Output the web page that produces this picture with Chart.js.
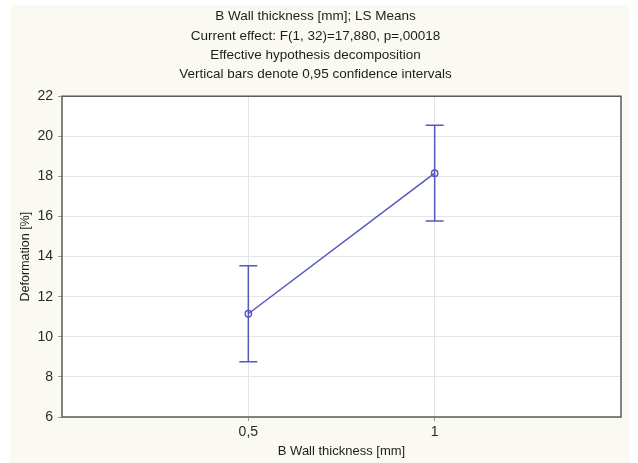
<!DOCTYPE html>
<html>
<head>
<meta charset="utf-8">
<script src="https://cdn.jsdelivr.net/npm/chart.js@4/dist/chart.umd.min.js"></script>
<style>
  html, body { margin: 0; padding: 0; background: #ffffff; }
  #wrap { position: relative; width: 638px; height: 463px; }
</style>
</head>
<body>
<div id="wrap"><canvas id="c" width="638" height="463"></canvas></div>
<script>
// Wall thickness levels (mm) and LS means of deformation (%)
const thickness = [0.5, 1];
const meanDeformation = [11.15, 18.16];
// 95% confidence interval bounds
const ciLower = [8.76, 15.77];
const ciUpper = [13.54, 20.55];
// Tick positions
const xTicks = [0.5, 1];
const yTicks = [6, 8, 10, 12, 14, 16, 18, 20, 22];

const titleLines = [
  'B Wall thickness [mm]; LS Means',
  'Current effect: F(1, 32)=17,880, p=,00018',
  'Effective hypothesis decomposition',
  'Vertical bars denote 0,95 confidence intervals'
];

const lineColor = '#5458bc';
const fontFamily = '"Liberation Sans", Arial, sans-serif';

const points = thickness.map((x, i) => ({ x: x, y: meanDeformation[i] }));

// Paper background behind the whole figure
const backgroundPlugin = {
  id: 'paper',
  beforeDraw(chart) {
    const ctx = chart.ctx;
    ctx.save();
    ctx.fillStyle = '#fafaf2';
    ctx.fillRect(10, 5, 620, 458);
    const a = chart.chartArea;
    ctx.fillStyle = '#ffffff';
    ctx.fillRect(a.left, a.top, a.right - a.left, a.bottom - a.top);
    ctx.restore();
  }
};

// Frame around the plotting area
const framePlugin = {
  id: 'frame',
  afterDatasetsDraw(chart) {
    const a = chart.chartArea;
    const ctx = chart.ctx;
    ctx.save();
    ctx.strokeStyle = '#5a5a5a';
    ctx.lineWidth = 1.5;
    ctx.strokeRect(a.left, a.top, a.right - a.left, a.bottom - a.top);
    ctx.restore();
  }
};

// Vertical confidence-interval whiskers with caps
const errorBarPlugin = {
  id: 'ciBars',
  beforeDatasetsDraw(chart) {
    const xs = chart.scales.x, ys = chart.scales.y;
    const ctx = chart.ctx;
    ctx.save();
    ctx.strokeStyle = lineColor;
    ctx.lineWidth = 1.5;
    const cap = 9;
    thickness.forEach((t, i) => {
      const px = xs.getPixelForValue(t);
      const yTop = ys.getPixelForValue(ciUpper[i]);
      const yBot = ys.getPixelForValue(ciLower[i]);
      ctx.beginPath();
      ctx.moveTo(px, yTop); ctx.lineTo(px, yBot);
      ctx.moveTo(px - cap, yTop); ctx.lineTo(px + cap, yTop);
      ctx.moveTo(px - cap, yBot); ctx.lineTo(px + cap, yBot);
      ctx.stroke();
    });
    ctx.restore();
  }
};

new Chart(document.getElementById('c'), {
  type: 'line',
  data: {
    datasets: [{
      data: points,
      borderColor: lineColor,
      borderWidth: 1.5,
      backgroundColor: '#ffffff',
      pointRadius: 3.2,
      pointBorderWidth: 1.4,
      pointBorderColor: lineColor,
      pointBackgroundColor: 'rgba(255,255,255,0)',
      tension: 0
    }]
  },
  options: {
    responsive: false,
    animation: false,
    devicePixelRatio: 1,
    layout: { padding: { left: 10, right: 17, top: 0, bottom: 0 } },
    plugins: {
      legend: { display: false },
      tooltip: { enabled: false },
      title: {
        display: true,
        text: titleLines,
        color: '#1e1e1e',
        font: { family: fontFamily, size: 13.5, weight: 'normal', lineHeight: 1.43 },
        padding: { top: 7, bottom: 12 }
      }
    },
    scales: {
      x: {
        type: 'linear',
        min: 0,
        max: 1.5,
        afterBuildTicks(scale) { scale.ticks = xTicks.map(v => ({ value: v })); },
        afterFit(scale) { scale.height = 46; },
        ticks: {
          color: '#2a2a2a',
          font: { family: fontFamily, size: 14 },
          padding: 3,
          callback: v => String(v).replace('.', ',')
        },
        grid: { color: '#e4e4e4', lineWidth: 1, tickLength: 4, tickColor: '#9a9a9a', drawOnChartArea: true },
        border: { display: false },
        title: {
          display: true,
          text: 'B Wall thickness [mm]',
          color: '#1e1e1e',
          font: { family: fontFamily, size: 13 },
          padding: { top: 4, bottom: 4 }
        }
      },
      y: {
        min: 6,
        max: 22,
        afterBuildTicks(scale) { scale.ticks = yTicks.map(v => ({ value: v })); },
        afterFit(scale) { scale.width = 52; },
        ticks: {
          color: '#2a2a2a',
          font: { family: fontFamily, size: 14 },
          padding: 5
        },
        grid: { color: '#e4e4e4', lineWidth: 1, tickLength: 4, tickColor: '#9a9a9a' },
        border: { display: false },
        title: {
          display: true,
          text: 'Deformation [%]',
          color: '#1e1e1e',
          font: { family: fontFamily, size: 12.5 },
          padding: { top: 8, bottom: 4 }
        }
      }
    }
  },
  plugins: [backgroundPlugin, errorBarPlugin, framePlugin]
});
</script>
</body>
</html>
